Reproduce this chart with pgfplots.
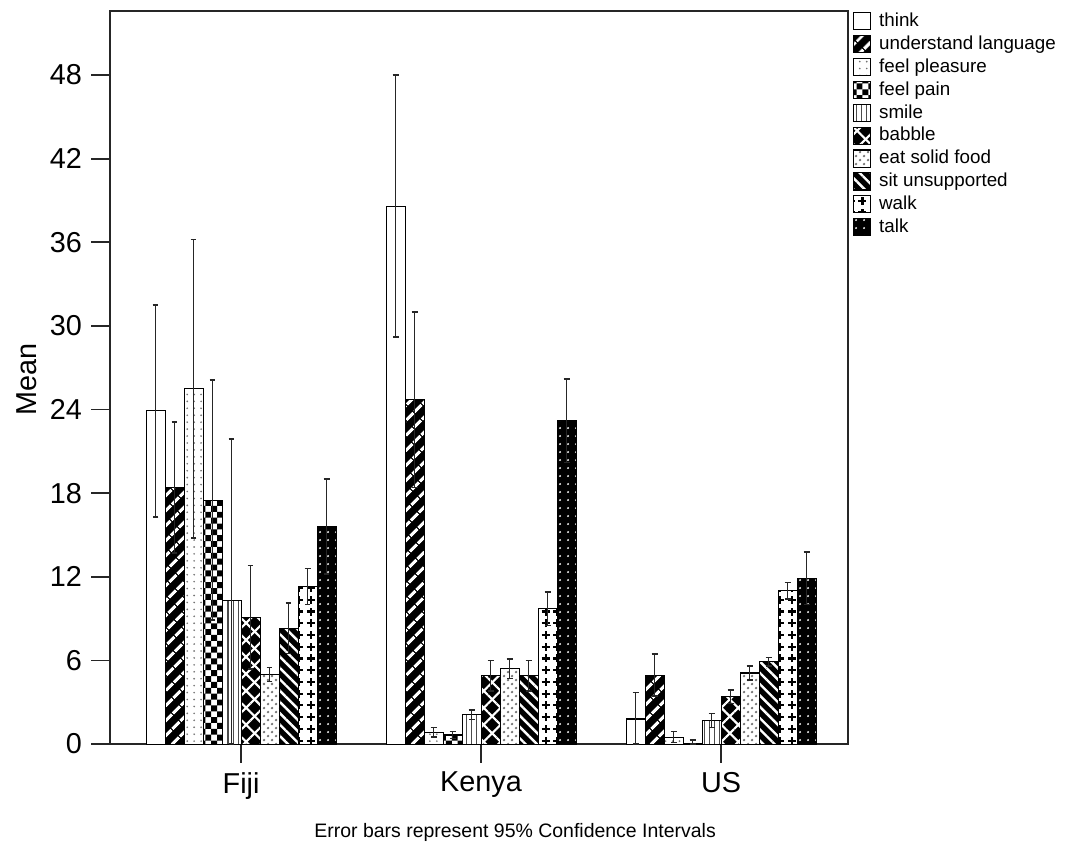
\documentclass[border=0pt]{standalone}
\usepackage{fontspec}
\setmainfont{Liberation Sans}
\usepackage{pgfplots}
\usepackage{pgfplotstable}
\pgfplotsset{compat=1.18}
\usetikzlibrary{patterns,patterns.meta}

% plus signs for "walk"
\pgfdeclarepatternformonly{plus}{\pgfqpoint{-0.5pt}{-0.5pt}}{\pgfqpoint{4.9pt}{4.9pt}}{\pgfqpoint{4.4pt}{4.4pt}}{
  \pgfsetlinewidth{0.8pt}
  \pgfpathmoveto{\pgfqpoint{0.7pt}{2.2pt}}\pgfpathlineto{\pgfqpoint{3.7pt}{2.2pt}}
  \pgfpathmoveto{\pgfqpoint{2.2pt}{0.7pt}}\pgfpathlineto{\pgfqpoint{2.2pt}{3.7pt}}
  \pgfusepath{stroke}}
% small checkerboard for "feel pain"
\pgfdeclarepatternformonly{smallcheck}{\pgfpointorigin}{\pgfqpoint{4.5pt}{4.5pt}}{\pgfqpoint{4.4pt}{4.4pt}}{
  \pgfpathrectangle{\pgfpointorigin}{\pgfqpoint{2.2pt}{2.2pt}}
  \pgfpathrectangle{\pgfqpoint{2.2pt}{2.2pt}}{\pgfqpoint{2.2pt}{2.2pt}}
  \pgfusepath{fill}}

\pgfplotstableread{
x y ep em
0 23.9 7.6 7.6
1 38.6 9.4 9.4
2 1.8 1.9 1.8
}\think
\pgfplotstableread{
x y ep em
0 18.4 4.7 4.7
1 24.7 6.3 6.3
2 4.95 1.5 1.5
}\understand
\pgfplotstableread{
x y ep em
0 25.5 10.7 10.7
1 0.85 0.35 0.35
2 0.5 0.4 0.4
}\pleasure
\pgfplotstableread{
x y ep em
0 17.5 8.6 8.6
1 0.65 0.25 0.25
2 0.05 0.25 0.05
}\pain
\pgfplotstableread{
x y ep em
0 10.3 11.6 10.3
1 2.1 0.35 0.35
2 1.7 0.5 0.5
}\smile
\pgfplotstableread{
x y ep em
0 9.1 3.7 3.7
1 4.9 1.1 1.1
2 3.4 0.5 0.5
}\babble
\pgfplotstableread{
x y ep em
0 5.0 0.5 0.5
1 5.4 0.7 0.7
2 5.1 0.5 0.5
}\eat
\pgfplotstableread{
x y ep em
0 8.3 1.8 1.8
1 4.9 1.1 1.1
2 5.9 0.3 0.3
}\sit
\pgfplotstableread{
x y ep em
0 11.3 1.3 1.3
1 9.7 1.2 1.2
2 11.0 0.6 0.6
}\walk
\pgfplotstableread{
x y ep em
0 15.6 3.4 3.4
1 23.2 3.0 3.0
2 11.9 1.9 1.9
}\talk

\pgfplotsset{
  eb/.style={error bars/.cd, y dir=both, y explicit,
    error bar style={black!85, line width=0.6pt},
    error mark options={rotate=90, black!85, mark size=1.1pt, line width=0.6pt}},
}

\begin{document}
\begin{tikzpicture}
\begin{axis}[
  width=276.75pt, height=274.9pt, scale only axis,
  ybar=0pt, bar width=7.125pt,
  legend image code/.code={\draw[#1] (0pt,-3.2pt) rectangle (6.4pt,3.2pt);},
  xmin=-0.546, xmax=2.529, ymin=0, ymax=52.6,
  xtick={0,1,2}, xticklabels={Fiji,Kenya,US},
  ytick={0,6,...,48},
  tick pos=left, tick align=outside, major tick length=7pt,
  axis line style={line width=0.7pt, black!85},
  tick style={line width=0.7pt, black!85},
  /pgf/number format/assume math mode=true,
  tick label style={font=\fontsize{10.8}{12}\selectfont},
  ylabel={Mean},
  ylabel style={font=\fontsize{10.8}{12}\selectfont, at={(axis description cs:-0.1125,0.497)}, anchor=center},
  legend style={at={(1.006,1.002)}, anchor=north west, draw=none, fill=none,
    inner sep=0pt, font=\fontsize{7.05}{8}\selectfont, row sep=0.4pt,
    nodes={inner sep=0.5pt, text height=5.6pt, text depth=1.6pt}},
  legend cell align=left,
  legend columns=1,
  /tikz/every odd column/.append style={column sep=2.5pt},
]
\addplot[draw=black, fill=white, eb] table[x=x, y=y, y error plus=ep, y error minus=em] {\think};
\addplot[draw=black, fill=black, postaction={pattern={Lines[angle=45, distance=4pt, line width=1.3pt]}, pattern color=white}, eb] table[x=x, y=y, y error plus=ep, y error minus=em] {\understand};
\addplot[draw=black, fill=white, postaction={pattern={Dots[distance=2.6pt, radius=0.35pt]}, pattern color=black!55}, eb] table[x=x, y=y, y error plus=ep, y error minus=em] {\pleasure};
\addplot[draw=black, fill=white, postaction={pattern=smallcheck, pattern color=black}, eb] table[x=x, y=y, y error plus=ep, y error minus=em] {\pain};
\addplot[draw=black, fill=white, postaction={pattern={Lines[angle=90, distance=1.9pt, line width=0.4pt]}, pattern color=black!70}, eb] table[x=x, y=y, y error plus=ep, y error minus=em] {\smile};
\addplot[draw=black, fill=black, postaction={pattern={Lines[angle=45, distance=4.5pt, line width=0.8pt]}, pattern color=white}, postaction={pattern={Lines[angle=-45, distance=4.5pt, line width=0.8pt]}, pattern color=white}, eb] table[x=x, y=y, y error plus=ep, y error minus=em] {\babble};
\addplot[draw=black, fill=white, postaction={pattern=crosshatch dots, pattern color=black!55}, eb] table[x=x, y=y, y error plus=ep, y error minus=em] {\eat};
\addplot[draw=black, fill=black, postaction={pattern={Lines[angle=-45, distance=3pt, line width=0.9pt]}, pattern color=white}, eb] table[x=x, y=y, y error plus=ep, y error minus=em] {\sit};
\addplot[draw=black, fill=white, postaction={pattern=plus, pattern color=black}, eb] table[x=x, y=y, y error plus=ep, y error minus=em] {\walk};
\addplot[draw=black, fill=black, postaction={pattern={Dots[distance=3pt, radius=0.4pt]}, pattern color=white}, eb] table[x=x, y=y, y error plus=ep, y error minus=em] {\talk};
\legend{think, understand language, feel pleasure, feel pain, smile, babble, eat solid food, sit unsupported, walk, talk}
\end{axis}
\node[anchor=base, font=\fontsize{7.3}{9}\selectfont] at ([shift={(151.9pt,-35.2pt)}]current axis.south west) {Error bars represent 95\% Confidence Intervals};
\path ([shift={(-41.25pt,-40.5pt)}]current axis.south west) rectangle ([shift={(82.1pt,4.1pt)}]current axis.north east);
\end{tikzpicture}
\end{document}
